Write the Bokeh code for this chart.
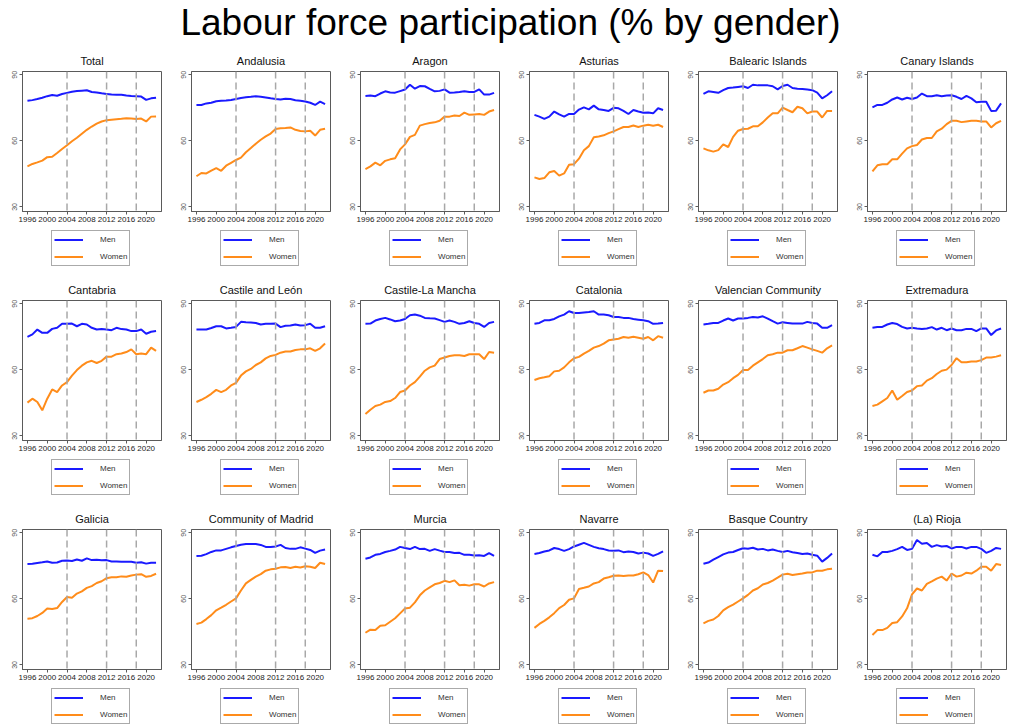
from bokeh.plotting import figure
from bokeh.layouts import column, row
from bokeh.models import FixedTicker, Span, Legend, LegendItem, Range1d
from bokeh.embed import file_html
from bokeh.resources import INLINE
from bokeh.core.properties import value

main_title = "Labour force participation (% by gender)"
years = list(range(1996, 2023))
x_ticks = [1996, 2000, 2004, 2008, 2012, 2016, 2020]
y_ticks = [30, 60, 90]
breaks = [2004, 2012, 2018]
series_names = ["Men", "Women"]

regions = ["Total", "Andalusia", "Aragon", "Asturias", "Balearic Islands", "Canary Islands",
           "Cantabria", "Castile and León", "Castile-La Mancha", "Catalonia", "Valencian Community", "Extremadura",
           "Galicia", "Community of Madrid", "Murcia", "Navarre", "Basque Country", "(La) Rioja"]

men_total = [78.2, 78.5, 79.0, 79.6, 80.3, 80.8, 80.5, 81.3, 81.8, 82.3, 82.6, 82.8, 83.0, 82.2, 82.0, 81.6, 81.3, 81.0, 80.9, 80.9, 80.6, 80.4, 80.3, 80.1, 78.6, 79.3, 79.6]
women_total = [48.4, 49.5, 50.2, 51.0, 52.6, 52.8, 54.5, 56.3, 58.0, 59.8, 61.4, 63.2, 65.0, 66.5, 67.8, 68.8, 69.4, 69.6, 69.8, 70.0, 70.3, 70.1, 69.9, 70.1, 68.8, 71.0, 71.1]
men_andalusia = [76.3, 76.3, 77.0, 77.3, 78.0, 78.2, 78.3, 78.6, 79.0, 79.5, 79.8, 80.0, 80.3, 80.0, 79.7, 79.3, 79.0, 78.8, 79.1, 79.0, 78.4, 78.2, 77.9, 77.3, 76.3, 77.8, 76.7]
women_andalusia = [43.9, 45.4, 45.2, 46.5, 47.6, 46.4, 48.7, 50.0, 51.3, 52.4, 54.8, 56.7, 58.7, 60.5, 62.0, 63.3, 65.4, 65.7, 65.8, 66.1, 65.0, 64.5, 64.3, 64.6, 62.4, 65.0, 65.5]
men_aragon = [80.4, 80.6, 80.3, 81.5, 82.5, 82.0, 81.9, 82.6, 83.3, 85.5, 83.7, 84.9, 84.8, 83.6, 82.5, 82.7, 83.4, 81.9, 82.0, 82.2, 82.5, 82.2, 82.2, 83.4, 81.0, 81.0, 81.8]
women_aragon = [47.2, 48.4, 50.1, 48.9, 50.9, 51.6, 52.1, 56.1, 58.4, 61.8, 62.7, 66.9, 67.6, 68.1, 68.4, 69.1, 71.0, 71.0, 71.5, 71.3, 72.8, 71.8, 72.0, 72.2, 71.8, 73.3, 74.0]
men_asturias = [71.8, 71.0, 70.0, 71.0, 73.3, 72.0, 71.0, 72.2, 72.2, 74.2, 75.2, 74.3, 76.0, 74.3, 74.0, 73.6, 75.0, 74.8, 73.6, 72.2, 74.0, 73.3, 72.8, 72.9, 72.5, 74.8, 74.0]
women_asturias = [43.4, 42.7, 43.1, 45.7, 46.3, 44.2, 45.2, 49.1, 49.4, 51.9, 55.7, 57.6, 61.6, 62.0, 62.5, 63.5, 64.3, 65.3, 66.3, 66.3, 67.0, 66.3, 66.9, 67.3, 66.9, 67.3, 66.3]
men_balearic = [81.3, 82.5, 82.2, 81.8, 83.0, 84.0, 84.2, 84.5, 84.8, 84.0, 85.5, 85.2, 85.2, 85.2, 84.8, 83.4, 84.9, 85.5, 84.0, 83.7, 83.6, 83.3, 83.0, 81.9, 79.3, 80.7, 82.5]
women_balearic = [56.6, 55.7, 55.1, 55.8, 58.4, 57.2, 61.8, 64.6, 65.4, 65.5, 66.6, 66.6, 68.4, 70.6, 72.5, 72.5, 75.1, 74.0, 73.0, 75.5, 74.8, 72.5, 73.3, 73.3, 70.6, 73.6, 73.6]
men_canary = [75.2, 76.3, 76.3, 77.3, 78.8, 79.7, 78.8, 79.6, 79.0, 79.7, 81.5, 80.3, 80.3, 80.7, 80.3, 80.6, 80.7, 80.0, 79.0, 80.4, 79.3, 77.5, 77.8, 77.8, 73.6, 73.7, 77.0]
women_canary = [46.1, 48.9, 49.4, 49.4, 51.6, 51.6, 54.2, 56.6, 57.6, 58.1, 60.6, 61.3, 61.3, 64.3, 65.5, 67.6, 69.1, 69.1, 68.5, 68.8, 69.1, 69.1, 68.8, 68.8, 66.1, 68.0, 69.1]
men_cantabria = [75.0, 76.1, 78.3, 76.8, 76.8, 78.6, 79.1, 80.9, 80.9, 81.0, 79.8, 80.9, 80.6, 79.1, 78.3, 78.6, 78.3, 78.0, 79.1, 78.5, 78.3, 77.6, 77.6, 78.3, 76.4, 77.3, 77.6]
women_cantabria = [45.1, 46.9, 45.4, 41.6, 46.9, 51.1, 49.9, 52.9, 54.4, 57.4, 59.9, 61.9, 63.4, 64.1, 63.1, 64.1, 66.0, 66.0, 67.1, 67.4, 68.1, 69.3, 67.1, 67.4, 67.1, 70.1, 68.6]
men_cyl = [78.3, 78.3, 78.3, 79.0, 79.8, 79.8, 78.8, 79.1, 79.5, 81.8, 81.6, 81.5, 81.3, 80.6, 80.9, 80.9, 81.0, 79.4, 80.0, 80.1, 80.6, 80.1, 80.3, 80.9, 79.1, 79.1, 79.8]
women_cyl = [45.4, 46.4, 47.6, 49.1, 50.9, 49.9, 50.9, 52.9, 54.1, 57.4, 59.3, 60.4, 62.2, 63.4, 65.2, 66.3, 66.8, 67.8, 68.3, 68.3, 69.0, 69.3, 69.3, 69.8, 68.6, 69.8, 72.0]
men_clm = [80.9, 81.0, 82.4, 83.1, 83.6, 82.9, 82.1, 82.4, 83.1, 84.8, 85.1, 84.6, 83.6, 83.4, 83.3, 82.6, 81.8, 82.4, 81.8, 80.9, 81.3, 82.1, 81.3, 80.9, 79.5, 81.3, 81.8]
women_clm = [39.9, 41.9, 43.6, 44.2, 45.4, 45.8, 47.2, 49.9, 50.6, 52.9, 54.4, 56.9, 59.6, 61.1, 61.9, 64.9, 65.6, 66.3, 66.6, 66.6, 66.3, 67.1, 67.1, 67.1, 64.9, 68.1, 67.8]
men_catalonia = [80.9, 81.3, 82.5, 82.5, 83.1, 84.3, 85.1, 86.6, 85.8, 85.8, 86.1, 86.3, 86.6, 85.1, 85.1, 84.8, 84.0, 84.0, 83.6, 83.6, 83.1, 82.8, 82.5, 82.1, 80.9, 81.0, 81.3]
women_catalonia = [55.4, 56.2, 56.6, 57.1, 59.3, 59.6, 61.1, 63.4, 65.3, 65.9, 67.4, 68.6, 70.1, 70.8, 71.9, 73.4, 73.8, 74.1, 74.9, 74.6, 75.0, 74.6, 74.1, 74.9, 73.4, 75.3, 74.6]
men_valencia = [80.6, 80.9, 81.3, 81.3, 82.4, 83.3, 82.4, 83.3, 83.3, 83.6, 84.0, 83.8, 84.3, 83.3, 82.1, 81.0, 81.6, 81.3, 81.0, 81.0, 81.0, 81.8, 81.3, 81.0, 79.1, 79.1, 80.3]
women_valencia = [49.6, 50.6, 50.6, 51.4, 53.3, 54.4, 56.2, 57.7, 59.9, 59.9, 61.9, 63.4, 64.9, 66.6, 67.1, 67.8, 67.8, 68.9, 68.9, 69.8, 70.8, 70.1, 69.3, 68.6, 67.8, 69.8, 71.1]
men_extremadura = [79.1, 79.5, 79.5, 80.6, 81.3, 80.8, 79.5, 78.8, 79.1, 78.8, 78.6, 78.8, 79.4, 78.3, 79.1, 78.0, 78.8, 78.0, 78.0, 78.6, 78.6, 77.6, 78.8, 78.8, 75.8, 77.9, 78.8]
women_extremadura = [43.6, 44.2, 45.7, 47.2, 50.6, 46.4, 48.1, 49.9, 50.6, 52.6, 52.9, 55.1, 56.2, 58.1, 59.6, 60.1, 62.2, 65.3, 63.4, 63.4, 63.8, 63.8, 64.4, 65.6, 65.6, 66.0, 66.6]
men_galicia = [75.8, 75.9, 76.3, 76.6, 77.0, 76.4, 76.5, 77.3, 77.4, 77.2, 77.9, 77.3, 78.4, 77.6, 77.8, 77.5, 77.6, 77.0, 77.0, 76.8, 76.8, 76.8, 76.4, 76.6, 76.0, 76.4, 76.4]
women_galicia = [51.0, 51.2, 52.2, 53.6, 55.6, 55.4, 55.8, 58.6, 60.8, 60.5, 62.4, 63.4, 65.0, 65.8, 67.2, 68.0, 69.4, 69.8, 69.8, 70.2, 70.0, 70.6, 71.0, 71.2, 70.0, 70.4, 71.4]
men_madrid = [79.5, 79.6, 80.3, 81.3, 82.0, 82.0, 82.7, 83.4, 84.0, 84.6, 84.9, 84.9, 84.9, 84.5, 83.6, 83.6, 83.8, 84.5, 83.1, 82.7, 82.7, 83.4, 82.8, 82.2, 80.9, 81.9, 82.4]
women_madrid = [48.6, 49.2, 50.8, 52.6, 54.8, 56.0, 57.3, 58.8, 60.2, 63.8, 67.0, 68.6, 70.1, 71.2, 72.8, 73.4, 73.7, 74.3, 74.5, 74.0, 74.6, 74.2, 74.8, 74.6, 74.0, 76.4, 75.8]
men_murcia = [78.2, 78.8, 80.0, 80.4, 81.3, 81.8, 82.4, 83.6, 83.1, 82.6, 83.6, 82.6, 82.7, 81.8, 82.6, 81.9, 81.3, 81.3, 80.8, 80.9, 80.0, 80.0, 79.7, 79.8, 79.5, 80.8, 79.5]
women_murcia = [44.6, 46.0, 45.8, 47.8, 48.0, 49.6, 51.2, 53.4, 55.6, 56.0, 58.4, 61.6, 63.8, 65.2, 66.6, 67.2, 68.2, 67.6, 68.4, 66.2, 66.4, 66.0, 66.6, 66.6, 65.6, 67.0, 67.6]
men_navarre = [80.4, 80.8, 81.5, 82.0, 83.1, 82.6, 81.8, 82.6, 83.8, 84.6, 85.4, 84.5, 83.6, 83.0, 82.6, 82.0, 81.8, 82.0, 81.2, 81.5, 81.3, 80.6, 81.0, 80.6, 79.5, 80.4, 81.6]
women_navarre = [46.8, 48.6, 50.0, 51.6, 53.5, 55.8, 57.2, 59.6, 60.2, 64.5, 65.0, 65.6, 67.0, 67.6, 69.2, 69.8, 70.5, 70.6, 70.4, 70.6, 70.6, 71.2, 72.0, 70.8, 67.4, 72.8, 72.6]
men_basque = [75.9, 76.5, 77.8, 79.0, 80.2, 81.0, 81.3, 82.2, 83.0, 82.8, 83.2, 82.4, 82.7, 82.0, 82.4, 81.8, 81.3, 81.8, 81.2, 80.8, 80.4, 80.6, 80.0, 79.6, 76.9, 78.6, 80.6]
women_basque = [48.9, 50.0, 50.6, 52.2, 54.8, 56.2, 57.4, 58.8, 60.2, 61.8, 63.8, 64.8, 66.5, 67.2, 68.3, 69.6, 71.0, 71.4, 70.8, 71.2, 71.5, 72.0, 72.0, 72.8, 72.8, 73.4, 73.7]
men_rioja = [80.0, 79.3, 81.3, 81.3, 81.8, 82.6, 83.6, 82.2, 82.7, 86.7, 85.0, 85.4, 83.6, 84.4, 83.8, 84.0, 82.9, 83.6, 83.6, 82.9, 83.6, 83.6, 82.7, 80.9, 81.8, 83.1, 82.7]
women_rioja = [43.6, 45.8, 45.8, 46.8, 49.0, 49.4, 52.0, 55.7, 62.0, 64.7, 63.8, 66.8, 67.9, 69.2, 70.1, 68.3, 71.5, 70.1, 70.6, 71.9, 71.5, 72.8, 74.6, 74.6, 72.8, 75.8, 75.4]

men_series = [men_total, men_andalusia, men_aragon, men_asturias, men_balearic, men_canary,
              men_cantabria, men_cyl, men_clm, men_catalonia, men_valencia, men_extremadura,
              men_galicia, men_madrid, men_murcia, men_navarre, men_basque, men_rioja]
women_series = [women_total, women_andalusia, women_aragon, women_asturias, women_balearic, women_canary,
                women_cantabria, women_cyl, women_clm, women_catalonia, women_valencia, women_extremadura,
                women_galicia, women_madrid, women_murcia, women_navarre, women_basque, women_rioja]

FONT = "Liberation Sans"
MEN_COLOR = "#1a1aff"
WOMEN_COLOR = "#ff8c1a"
FRAME_COLOR = "#5a5a5a"
PANEL_W = 169
NAN = float("nan")


def make_plot(name, m, w):
    p = figure(frame_width=139, frame_height=140, output_backend="svg", toolbar_location=None,
               x_range=Range1d(1995, 2023.1), y_range=Range1d(27.9, 91.5),
               min_border_left=22, min_border_right=8, min_border_top=0, min_border_bottom=0,
               title=name)
    p.title.align = "center"
    p.title.text_font = FONT
    p.title.text_font_size = "11px"
    p.title.text_font_style = "normal"
    p.title.text_color = "#111111"
    p.background_fill_color = "white"
    p.border_fill_color = "white"
    p.outline_line_color = FRAME_COLOR
    p.outline_line_width = 1
    p.grid.visible = False

    p.xaxis.ticker = FixedTicker(ticks=x_ticks)
    p.yaxis.ticker = FixedTicker(ticks=y_ticks)
    for ax in (p.xaxis[0], p.yaxis[0]):
        ax.axis_line_color = FRAME_COLOR
        ax.major_tick_line_color = FRAME_COLOR
        ax.major_tick_out = 3
        ax.major_tick_in = 0
        ax.minor_tick_line_color = None
        ax.major_label_text_font = FONT
        ax.major_label_standoff = 2
    p.xaxis.major_label_text_font_size = "8px"
    p.xaxis.major_label_text_color = "#222222"
    p.yaxis.major_label_text_font_size = "7px"
    p.yaxis.major_label_text_color = "#555555"
    p.yaxis.major_label_orientation = "vertical"

    for b in breaks:
        p.add_layout(Span(location=b, dimension="height", line_color="#a8a8a8",
                          line_dash="7 4", line_width=1.5))

    p.line(years, m, line_color=MEN_COLOR, line_width=2)
    p.line(years, w, line_color=WOMEN_COLOR, line_width=2)
    return p


def make_legend_fig():
    lf = figure(width=PANEL_W, height=44, output_backend="svg", toolbar_location=None,
                x_range=Range1d(0, 1), y_range=Range1d(0, 1),
                x_axis_location=None, y_axis_location=None, min_border=0)
    lf.grid.visible = False
    lf.outline_line_color = None
    # placeholder renderers (no visible points) that only carry the legend styling
    r_m = lf.line(x=[NAN], y=[NAN], line_color=MEN_COLOR, line_width=2)
    r_w = lf.line(x=[NAN], y=[NAN], line_color=WOMEN_COLOR, line_width=2)
    leg = Legend(items=[LegendItem(label=series_names[0], renderers=[r_m]),
                        LegendItem(label=series_names[1], renderers=[r_w])],
                 location=(29, 2), orientation="vertical")
    leg.label_text_font = FONT
    leg.label_text_font_size = "8px"
    leg.label_text_color = "#333333"
    leg.glyph_width = 29
    leg.glyph_height = 13
    leg.label_height = 13
    leg.label_standoff = 17
    leg.spacing = 4
    leg.padding = 2
    leg.margin = 0
    leg.border_line_color = "#555555"
    leg.border_line_width = 1
    leg.background_fill_color = "white"
    lf.add_layout(leg)
    return lf


title_fig = figure(width=6 * PANEL_W, height=47, output_backend="svg", toolbar_location=None,
                   x_range=Range1d(0, 1), y_range=Range1d(0, 1),
                   x_axis_location=None, y_axis_location=None, min_border=0)
title_fig.grid.visible = False
title_fig.outline_line_color = None
title_fig.text(x=[0.503], y=[0.53], text=[main_title], text_align="center", text_baseline="middle",
               text_font=value(FONT), text_font_size="37px", text_color="black")

panels = [column(make_plot(n, m, w), make_legend_fig(), spacing=0)
          for n, m, w in zip(regions, men_series, women_series)]
rows = [row(*panels[i:i + 6], spacing=0) for i in range(0, 18, 6)]
layout = column(title_fig, column(*rows, spacing=8), spacing=0)

open("out.html", "w").write(file_html(layout, INLINE))
